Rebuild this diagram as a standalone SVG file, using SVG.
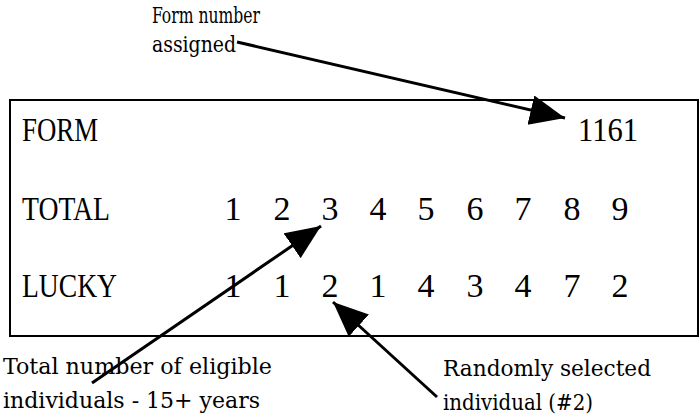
<svg xmlns="http://www.w3.org/2000/svg" width="700" height="416" viewBox="0 0 700 416">
<defs>
<style>
.big{font-family:"Liberation Serif","Times New Roman",serif;font-size:34px;fill:#000}
.lbl{font-family:"DejaVu Serif Condensed","DejaVu Serif","Liberation Serif",serif;font-stretch:condensed;font-size:23px;fill:#000}
.top{font-size:23px}
.conn{stroke:#000;stroke-width:3;fill:none}
</style>
<marker id="ah" markerUnits="userSpaceOnUse" markerWidth="38" markerHeight="32" refX="35" refY="15" orient="auto">
<path d="M0,0 L35,15 L0,30 z" fill="#000"/>
</marker>
</defs>
<rect x="0" y="0" width="700" height="416" fill="#fff"/>
<g id="form-box">
<rect x="10" y="100" width="688" height="236" fill="none" stroke="#000" stroke-width="2"/>
</g>
<g id="row-form">
<text class="big" x="22" y="141" textLength="76" lengthAdjust="spacingAndGlyphs">FORM</text>
<text class="big" x="578" y="141" textLength="60" lengthAdjust="spacingAndGlyphs">1161</text>
</g>
<g id="row-total">
<text class="big" x="22" y="220" textLength="88" lengthAdjust="spacingAndGlyphs">TOTAL</text>
<g text-anchor="middle">
<text class="big" x="233" y="220">1</text>
<text class="big" x="282" y="220">2</text>
<text class="big" x="330" y="220">3</text>
<text class="big" x="378" y="220">4</text>
<text class="big" x="426" y="220">5</text>
<text class="big" x="475" y="220">6</text>
<text class="big" x="523" y="220">7</text>
<text class="big" x="572" y="220">8</text>
<text class="big" x="620" y="220">9</text>
</g>
</g>
<g id="row-lucky">
<text class="big" x="22" y="297" textLength="95" lengthAdjust="spacingAndGlyphs">LUCKY</text>
<g text-anchor="middle">
<text class="big" x="233" y="297">1</text>
<text class="big" x="282" y="297">1</text>
<text class="big" x="330" y="297">2</text>
<text class="big" x="378" y="297">1</text>
<text class="big" x="426" y="297">4</text>
<text class="big" x="475" y="297">3</text>
<text class="big" x="523" y="297">4</text>
<text class="big" x="572" y="297">7</text>
<text class="big" x="620" y="297">2</text>
</g>
</g>
<g id="label-form-number">
<text class="lbl top" x="152" y="23" textLength="108" lengthAdjust="spacingAndGlyphs">Form number</text>
<text class="lbl top" x="152" y="52" textLength="84" lengthAdjust="spacingAndGlyphs">assigned</text>
</g>
<g id="label-total">
<text class="lbl" x="3" y="374" textLength="269" lengthAdjust="spacingAndGlyphs">Total number of eligible</text>
<text class="lbl" x="3" y="408" textLength="257" lengthAdjust="spacingAndGlyphs">individuals - 15+ years</text>
</g>
<g id="label-random">
<text class="lbl" x="443" y="376" textLength="208" lengthAdjust="spacingAndGlyphs">Randomly selected</text>
<text class="lbl" x="443" y="410" textLength="150" lengthAdjust="spacingAndGlyphs">individual (#2)</text>
</g>
<g id="connectors">
<line class="conn" x1="237" y1="42" x2="565" y2="118" marker-end="url(#ah)"/>
<line class="conn" x1="92" y1="383" x2="321" y2="226" marker-end="url(#ah)"/>
<line class="conn" x1="437" y1="397" x2="333" y2="302" marker-end="url(#ah)"/>
</g>
</svg>
